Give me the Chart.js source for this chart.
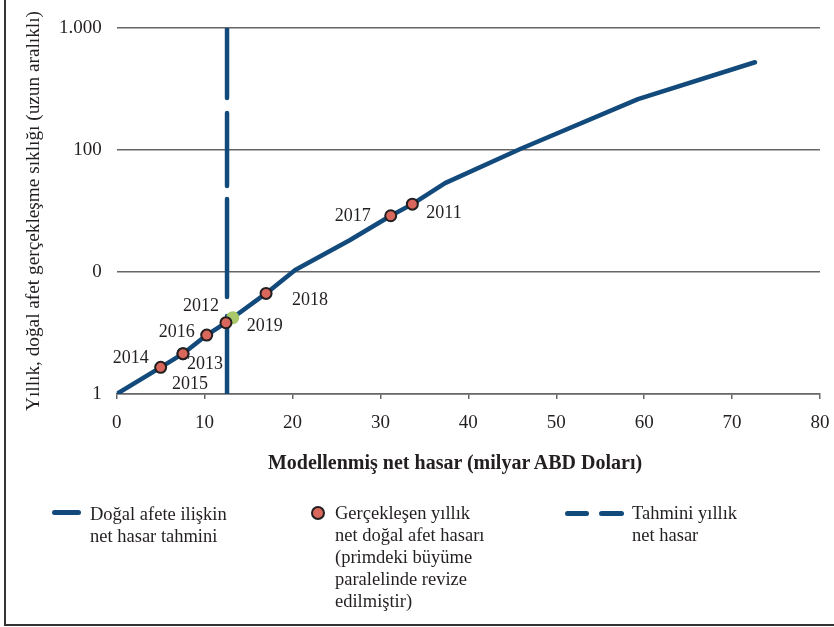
<!DOCTYPE html>
<html lang="tr">
<head>
<meta charset="utf-8">
<script src="https://cdn.jsdelivr.net/npm/chart.js@4.4.1/dist/chart.umd.min.js"></script>
<style>
  html, body { margin: 0; padding: 0; background: #fff; overflow: hidden; }
  body { width: 834px; height: 627px; position: relative; font-family: "Liberation Serif", "DejaVu Serif", serif; color: #231f20; }
  #frame { position: absolute; left: 4px; top: 0; width: 840px; height: 624px; border-left: 2px solid #333; border-bottom: 2px solid #333; pointer-events: none; }
  #c { position: absolute; left: 0; top: 0; }
  .xt { position: absolute; top: 450px; left: 0; width: 910px; text-align: center; font-weight: bold; font-size: 20px; line-height: 24px; }
  .lg { position: absolute; font-size: 18.5px; line-height: 22px; white-space: nowrap; }
  .sym { position: absolute; }
</style>
</head>
<body>
<canvas id="c" width="834" height="627"></canvas>
<div id="frame"></div>
<div class="xt">Modellenmiş net hasar (milyar ABD Doları)</div>

<div class="sym" style="left:52px;top:510px;width:29px;height:5px;border-radius:3px;background:#124a7b;"></div>
<div class="lg" style="left:90px;top:503px;">Doğal afete ilişkin<br>net hasar tahmini</div>

<div class="sym" style="left:311px;top:506px;width:10px;height:10px;border-radius:50%;background:#d9675c;border:2px solid #231f20;"></div>
<div class="lg" style="left:335px;top:502px;">Gerçekleşen yıllık<br>net doğal afet hasarı<br>(primdeki büyüme<br>paralelinde revize<br>edilmiştir)</div>

<div class="sym" style="left:565px;top:511px;width:24px;height:5px;border-radius:3px;background:#124a7b;"></div>
<div class="sym" style="left:599px;top:511px;width:25px;height:5px;border-radius:3px;background:#124a7b;"></div>
<div class="lg" style="left:632px;top:502px;">Tahmini yıllık<br>net hasar</div>

<script>
// ---- data ----
const curveX = [0, 5.0, 7.54, 10.24, 12.43, 13.2, 16.99, 20.3, 26.5, 31.17, 33.63, 37.35, 45.9, 59.3, 72.6];
const curveY = [1, 1.654, 2.14, 3.04, 3.84, 4.22, 6.68, 10.4, 18.2, 28.9, 36.0, 53.5, 102, 261, 524];

const years   = ["2014", "2015", "2013", "2016", "2019", "2012", "2018", "2017", "2011"];
const actualX = [5.0, 7.54, 7.54, 10.24, 13.2, 12.43, 16.99, 31.17, 33.63];
const actualY = [1.654, 2.14, 2.14, 3.04, 4.22, 3.84, 6.68, 28.9, 36.0];

const estimateX = [12.55, 12.55];
const estimateY = [1000, 1];

const xTickValues = [0, 10, 20, 30, 40, 50, 60, 70, 80];
const yTickValues = [1, 10, 100, 1000];
const yTickLabels = ["1", "0", "100", "1.000"];

// ---- styles ----
const BLUE = '#124a7b';
const SALMON = '#d9675c';
const GREEN = '#a9c76b';
const INK = '#231f20';
const GRID = '#666666';
const SERIF = '"Liberation Serif", "DejaVu Serif", serif';

// label placement relative to each marker (align, dx, dy)
const labelPlace = {
  "2014": ['right', -12, -9],
  "2015": ['center', 7, 31],
  "2013": ['left', 4, 11],
  "2016": ['right', -12, -3],
  "2019": ['left', 14, 9],
  "2012": ['right', -7, -16],
  "2018": ['left', 26, 7],
  "2017": ['right', -20, 0],
  "2011": ['left', 14, 9]
};

const yearLabels = {
  id: 'yearLabels',
  afterDatasetsDraw(chart) {
    const ctx = chart.ctx;
    const xs = chart.scales.x, ys = chart.scales.y;
    ctx.save();
    ctx.font = '18px ' + SERIF;
    ctx.fillStyle = INK;
    ctx.textBaseline = 'middle';
    years.forEach((yr, i) => {
      const p = labelPlace[yr];
      ctx.textAlign = p[0];
      ctx.fillText(yr, xs.getPixelForValue(actualX[i]) + p[1], ys.getPixelForValue(actualY[i]) + p[2]);
    });
    ctx.restore();
  }
};

const pointColors = years.map(y => y === "2019" ? GREEN : SALMON);
const pointBorderW = years.map(y => y === "2019" ? 0 : 2);
const pointRadii = years.map(y => y === "2019" ? 6.5 : 5.5);

new Chart(document.getElementById('c'), {
  type: 'scatter',
  data: {
    datasets: [
      {
        label: 'Gerçekleşen yıllık net doğal afet hasarı',
        data: actualX.map((x, i) => ({ x, y: actualY[i] })),
        showLine: false,
        pointRadius: pointRadii,
        pointBackgroundColor: pointColors,
        pointBorderColor: INK,
        pointBorderWidth: pointBorderW,
        order: 0
      },
      {
        label: 'Tahmini yıllık net hasar',
        data: estimateX.map((x, i) => ({ x, y: estimateY[i] })),
        showLine: true,
        borderColor: BLUE,
        borderWidth: 4.5,
        borderCapStyle: 'round',
        borderDash: [70, 15, 73, 13, 98, 19, 400, 10],
        pointRadius: 0,
        order: 1
      },
      {
        label: 'Doğal afete ilişkin net hasar tahmini',
        data: curveX.map((x, i) => ({ x, y: curveY[i] })),
        showLine: true,
        borderColor: BLUE,
        borderWidth: 4.5,
        borderCapStyle: 'round',
        borderJoinStyle: 'round',
        tension: 0,
        pointRadius: 0,
        order: 2
      }
    ]
  },
  options: {
    responsive: false,
    animation: false,
    devicePixelRatio: 1,
    layout: { padding: { top: 28, right: 14, bottom: 0, left: 0 } },
    plugins: { legend: { display: false }, tooltip: { enabled: false } },
    scales: {
      x: {
        type: 'linear',
        min: 0, max: 80,
        afterBuildTicks: s => { s.ticks = xTickValues.map(v => ({ value: v })); },
        afterFit: s => { s.height = 627 - 394; s.paddingLeft = 0; s.paddingRight = 0; },
        grid: { drawOnChartArea: false, drawTicks: true, tickLength: 5, color: GRID, lineWidth: 1.5 },
        border: { display: true, color: GRID, width: 1.5 },
        ticks: { color: INK, font: { family: SERIF, size: 19 }, padding: 13, maxRotation: 0 }
      },
      y: {
        type: 'logarithmic',
        min: 1, max: 1000,
        afterBuildTicks: s => { s.ticks = yTickValues.map(v => ({ value: v })); },
        afterFit: s => { s.width = 116.7; s.paddingTop = 0; s.paddingBottom = 0; },
        grid: { drawTicks: false, color: GRID, lineWidth: 1.5 },
        border: { display: false },
        ticks: {
          color: INK, font: { family: SERIF, size: 19 }, padding: 15,
          callback: (v) => { const i = yTickValues.indexOf(v); return i >= 0 ? yTickLabels[i] : ''; }
        },
        title: {
          display: true,
          text: 'Yıllık, doğal afet gerçekleşme sıklığı (uzun aralıklı)',
          color: INK,
          font: { family: SERIF, size: 19.3 },
          padding: { top: 22, bottom: 0 }
        }
      }
    }
  },
  plugins: [yearLabels]
});
</script>
</body>
</html>
